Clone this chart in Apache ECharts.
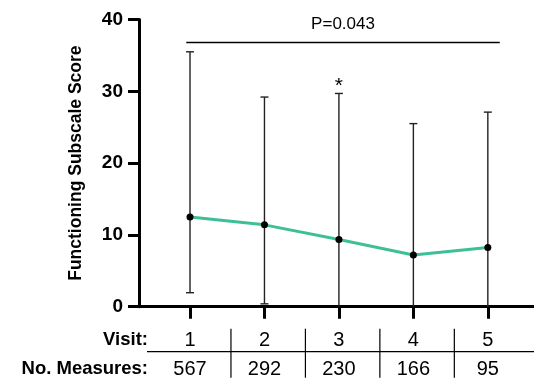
<!DOCTYPE html>
<html><head><meta charset="utf-8">
<script src="https://cdn.jsdelivr.net/npm/echarts@6/dist/echarts.min.js"></script>
<style>html,body{margin:0;padding:0;background:#fff}#c{width:534px;height:383px}</style>
</head><body><div id="c"></div>
<script>
const visits = [1, 2, 3, 4, 5];
const measures = [567, 292, 230, 166, 95];
const means = [12.5, 11.4, 9.35, 7.2, 8.25];
const upper = [35.5, 29.2, 29.7, 25.5, 27.1];
const lower = [1.95, 0.4, -2.0, -2.0, -2.0];
const sig = ['', '', '*', '', ''];
const yTicks = [0, 10, 20, 30, 40];
const pText = 'P=0.043';
const bracketY = 36.8;

const FONT = '"Liberation Sans", Arial, sans-serif';
const chart = echarts.init(document.getElementById('c'), null, {renderer: 'canvas'});

chart.setOption({
  animation: false,
  grid: {left: 139, right: 0, top: 19.5, bottom: 76.3, containLabel: false},
  xAxis: {
    type: 'value', min: 0.315, max: 5.62,
    splitLine: {show: false},
    axisLine: {show: true, onZero: false, lineStyle: {color: '#000', width: 3}},
    axisTick: {show: true, customValues: visits, length: 12, lineStyle: {color: '#000', width: 3}},
    axisLabel: {
      show: true, customValues: visits, margin: 19,
      formatter: function (v) {
        const i = visits.indexOf(v);
        return '{v|' + visits[i] + '}\n{m|' + measures[i] + '}';
      },
      rich: {
        v: {fontFamily: FONT, fontSize: 20, color: '#000', lineHeight: 29, align: 'center'},
        m: {fontFamily: FONT, fontSize: 20, color: '#000', lineHeight: 29, align: 'center'}
      }
    }
  },
  yAxis: {
    type: 'value', min: 0, max: 40, interval: 10,
    name: 'Functioning Subscale Score', nameLocation: 'middle', nameGap: 54, nameRotate: 90,
    nameTextStyle: {fontFamily: FONT, fontWeight: 'bold', fontSize: 17.5, color: '#000'},
    splitLine: {show: false},
    axisLine: {show: true, lineStyle: {color: '#000', width: 3}},
    axisTick: {show: true, length: 11, lineStyle: {color: '#000', width: 3}},
    axisLabel: {fontFamily: FONT, fontWeight: 'bold', fontSize: 19, color: '#000', margin: 16}
  },
  series: [
    {
      type: 'custom',
      z: 3,
      data: visits.map((v, i) => [v, lower[i], upper[i], i]),
      renderItem: function (params, api) {
        const x = api.value(0);
        const lo = Math.max(api.value(1), 0);
        const hi = api.value(2);
        const i = api.value(3);
        const pHi = api.coord([x, hi]);
        const pLo = api.coord([x, lo]);
        const cap = 4;
        const st = {stroke: '#222', lineWidth: 1.4};
        const children = [
          {type: 'line', shape: {x1: pHi[0], y1: pHi[1], x2: pLo[0], y2: pLo[1]}, style: st},
          {type: 'line', shape: {x1: pHi[0] - cap, y1: pHi[1], x2: pHi[0] + cap, y2: pHi[1]}, style: st}
        ];
        if (api.value(1) > 0) {
          children.push({type: 'line', shape: {x1: pLo[0] - cap, y1: pLo[1], x2: pLo[0] + cap, y2: pLo[1]}, style: st});
        }
        if (sig[i]) {
          children.push({type: 'text', style: {text: sig[i], x: pHi[0], y: pHi[1] + 3, align: 'center', verticalAlign: 'bottom', fontFamily: FONT, fontSize: 21, fill: '#000'}});
        }
        return {type: 'group', children: children};
      }
    },
    {
      type: 'line', z: 4,
      data: visits.map((v, i) => [v, means[i]]),
      lineStyle: {color: '#3fbf98', width: 3},
      symbol: 'circle', symbolSize: 7,
      itemStyle: {color: '#000', borderWidth: 0}
    }
  ]
});

function px(x, y) { return chart.convertToPixel({gridIndex: 0}, [x, y]); }
const b1 = px(0.95, bracketY), b2 = px(5.16, bracketY);
const tY = px(3, bracketY)[1];
const axisY = px(1, 0)[1];
const gfx = [
  {type: 'line', shape: {x1: b1[0], y1: b1[1], x2: b2[0], y2: b2[1]}, style: {stroke: '#000', lineWidth: 1.5}},
  {type: 'text', x: (b1[0] + b2[0]) / 2, y: tY - 10, style: {text: pText, align: 'center', verticalAlign: 'bottom', fontFamily: FONT, fontSize: 17, fill: '#000'}},
  {type: 'text', x: 148, y: axisY + 33, style: {text: 'Visit:', align: 'right', verticalAlign: 'middle', fontFamily: FONT, fontWeight: 'bold', fontSize: 18.5, fill: '#000'}},
  {type: 'text', x: 148, y: axisY + 62, style: {text: 'No. Measures:', align: 'right', verticalAlign: 'middle', fontFamily: FONT, fontWeight: 'bold', fontSize: 18.5, fill: '#000'}},
  {type: 'line', shape: {x1: 147, y1: axisY + 45, x2: 534, y2: axisY + 45}, style: {stroke: '#000', lineWidth: 1.2}}
];
for (let i = 0; i < visits.length - 1; i++) {
  const sx = px(visits[i] + 0.55, 0)[0];
  gfx.push({type: 'line', shape: {x1: sx, y1: axisY + 22, x2: sx, y2: axisY + 71}, style: {stroke: '#000', lineWidth: 1.2}});
}
chart.setOption({graphic: gfx});
</script>
</body></html>
